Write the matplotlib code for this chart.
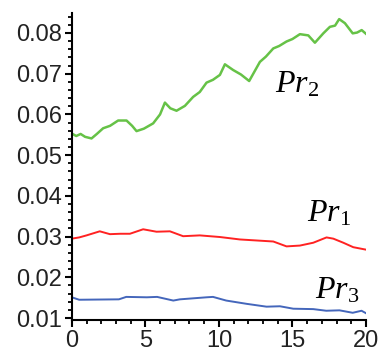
import matplotlib
matplotlib.use('Agg')
import matplotlib.pyplot as plt
from matplotlib.ticker import MultipleLocator

# Pr2 (green)
x_pr2 = [0.0, 0.3, 0.6, 0.9, 1.34, 1.7, 2.13, 2.6, 3.15, 3.72, 4.1, 4.4, 4.9, 5.53,
         6.0, 6.33, 6.7, 7.12, 7.69, 8.25, 8.7, 9.16, 9.6, 10.07, 10.41, 10.97, 11.5,
         12.06, 12.79, 13.2, 13.7, 14.1, 14.6, 15.0, 15.51, 16.08, 16.53, 17.1, 17.55,
         17.9, 18.18, 18.57, 19.1, 19.4, 19.71, 20.0]
y_pr2 = [0.0553, 0.0547, 0.0552, 0.0545, 0.0541, 0.0552, 0.0566, 0.0572, 0.0585, 0.0585,
         0.0572, 0.0559, 0.0565, 0.0578, 0.0600, 0.0629, 0.0615, 0.0609, 0.0621, 0.0643,
         0.0655, 0.0678, 0.0685, 0.0697, 0.0723, 0.0709, 0.0698, 0.0682, 0.0729, 0.0742,
         0.0762, 0.0768, 0.0779, 0.0785, 0.0797, 0.0794, 0.0776, 0.0799, 0.0815, 0.0818,
         0.0834, 0.0824, 0.0799, 0.0801, 0.0807, 0.0798]

# Pr1 (red)
x_pr1 = [0.0, 0.5, 1.0, 1.9, 2.59, 3.3, 3.95, 4.85, 5.76, 6.67, 7.57, 8.7, 10.07, 11.43,
         12.79, 13.7, 14.6, 15.51, 16.42, 17.32, 17.78, 18.46, 19.14, 20.0]
y_pr1 = [0.0295, 0.0298, 0.0303, 0.0313, 0.0306, 0.0307, 0.0307, 0.0318, 0.0312, 0.0313,
         0.0301, 0.0303, 0.0299, 0.0293, 0.0290, 0.0288, 0.0276, 0.0278, 0.0285, 0.0298,
         0.0295, 0.0285, 0.0274, 0.0268]

# Pr3 (blue)
x_pr3 = [0.0, 0.5, 3.2, 3.7, 5.1, 5.8, 6.9, 7.35, 9.16, 9.6, 10.5, 11.88, 13.24, 14.15,
         15.06, 16.42, 17.3, 18.2, 19.1, 19.7, 20.0]
y_pr3 = [0.0151, 0.0145, 0.0146, 0.0152, 0.0151, 0.0152, 0.0143, 0.0146, 0.0151, 0.0152,
         0.0143, 0.0135, 0.0128, 0.0129, 0.0123, 0.0122, 0.0118, 0.0119, 0.0113, 0.0118,
         0.0112]

plt.rcParams['mathtext.fontset'] = 'custom'
plt.rcParams['mathtext.it'] = 'Liberation Serif:italic'
plt.rcParams['mathtext.rm'] = 'Liberation Serif'

fig = plt.figure(figsize=(3.8, 3.51), dpi=100)
ax = fig.add_axes([0.189, 0.088, 0.774, 0.875])

ax.plot(x_pr2, y_pr2, color='#66c247', lw=1.8)
ax.plot(x_pr1, y_pr1, color='#ff2222', lw=1.4)
ax.plot(x_pr3, y_pr3, color='#4466bb', lw=1.4)

ax.text(13.8, 0.0655, r'$Pr_2$', fontsize=23, color='black')
ax.text(15.97, 0.0337, r'$Pr_1$', fontsize=23, color='black')
ax.text(16.53, 0.0149, r'$Pr_3$', fontsize=23, color='black')

ax.set_xlim(0, 20)
ax.set_ylim(0.0095, 0.0849)
ax.spines['top'].set_visible(False)
ax.spines['right'].set_visible(False)
ax.spines['left'].set_linewidth(1.5)
ax.spines['bottom'].set_linewidth(1.5)

ax.xaxis.set_major_locator(MultipleLocator(5))
ax.xaxis.set_minor_locator(MultipleLocator(1))
ax.yaxis.set_major_locator(MultipleLocator(0.01))
ax.yaxis.set_minor_locator(MultipleLocator(0.002))
ax.tick_params(which='major', length=5, width=1.5, labelsize=17, colors='black',
               labelcolor='#222222')
ax.tick_params(which='minor', length=3, width=1.3)
ax.set_yticks([0.01, 0.02, 0.03, 0.04, 0.05, 0.06, 0.07, 0.08])
ax.set_yticklabels(['0.01', '0.02', '0.03', '0.04', '0.05', '0.06', '0.07', '0.08'],
                   fontfamily='Liberation Sans')
ax.set_xticks([0, 5, 10, 15, 20])
ax.set_xticklabels(['0', '5', '10', '15', '20'], fontfamily='Liberation Sans')
ax.tick_params(axis='y', pad=2)
ax.tick_params(axis='x', pad=2)

fig.savefig('out.png', dpi=100)
